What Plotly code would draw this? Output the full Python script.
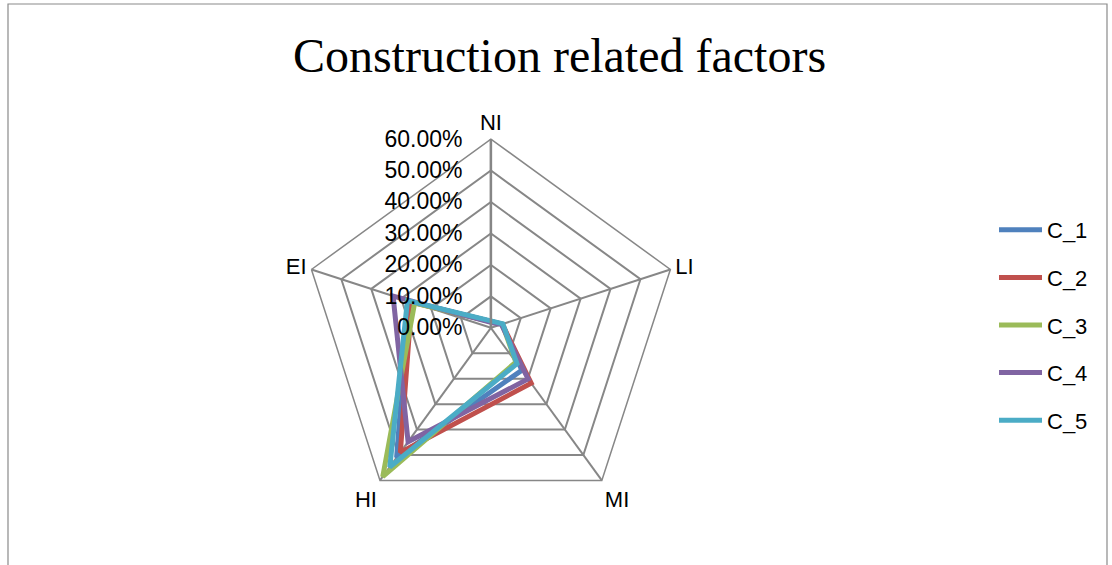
import plotly.graph_objects as go

categories = ['NI', 'LI', 'MI', 'HI', 'EI']
series_names = ['C_1', 'C_2', 'C_3', 'C_4', 'C_5']
c1 = [0.020, 0.038, 0.167, 0.510, 0.275]
c2 = [0.020, 0.038, 0.218, 0.490, 0.265]
c3 = [0.020, 0.038, 0.135, 0.585, 0.255]
c4 = [0.017, 0.035, 0.201, 0.448, 0.327]
c5 = [0.022, 0.040, 0.141, 0.547, 0.279]
colors = ['#4F81BD', '#C0504D', '#9BBB59', '#8064A2', '#4BACC6']

W, H = 1112, 565
fig = go.Figure()

for name, vals, col in zip(series_names, [c1, c2, c3, c4, c5], colors):
    fig.add_trace(go.Scatterpolar(
        r=vals + vals[:1],
        theta=categories + categories[:1],
        mode='lines',
        name=name,
        legendgroup=name,
        line=dict(color=col, width=5),
    ))

# polar domain in pixels (plotly draws the pentagon a little inside it)
cx, cy, half = 490.9, 327.8, 188.7
nb = '\u00a0'
fig.update_layout(
    width=W, height=H,
    margin=dict(l=0, r=0, t=0, b=0),
    paper_bgcolor='white',
    font=dict(family='Liberation Sans', size=22, color='black'),
    title=dict(text='Construction related factors', x=559.5 / W, xanchor='center',
               y=1 - 55 / H, yanchor='middle',
               font=dict(family='Liberation Serif', size=48, color='black')),
    polar=dict(
        domain=dict(x=[(cx - half) / W, (cx + half) / W],
                    y=[1 - (cy + half) / H, 1 - (cy - half) / H]),
        gridshape='linear',
        bgcolor='white',
        radialaxis=dict(range=[0, 0.6], dtick=0.1, tickformat='.2%', ticksuffix=nb * 3,
                        angle=90, tickangle=90,
                        side='counterclockwise', showline=True, linecolor='#868686', linewidth=2.5,
                        gridcolor='#878787', gridwidth=1.5, ticks='',
                        tickfont=dict(family='Liberation Sans', size=23)),
        angularaxis=dict(rotation=90, direction='clockwise', showline=True, linecolor='#878787',
                         linewidth=1.5, gridcolor='#878787', gridwidth=1.5, ticks='',
                         tickfont=dict(family='Liberation Sans', size=22)),
    ),
    legend=dict(x=994 / W, y=1 - 209 / H, xanchor='left', yanchor='top',
                tracegroupgap=16, traceorder='grouped', itemwidth=43,
                font=dict(family='Liberation Sans', size=22)),
    shapes=[dict(type='rect', xref='paper', yref='paper', x0=8 / W, x1=1107 / W,
                 y0=-0.1, y1=1 - 4 / H, line=dict(color='#8a8a8a', width=1.2))],
)

fig.write_html('out.html', config={'displayModeBar': False},
               post_script="document.body.style.margin='0';")
